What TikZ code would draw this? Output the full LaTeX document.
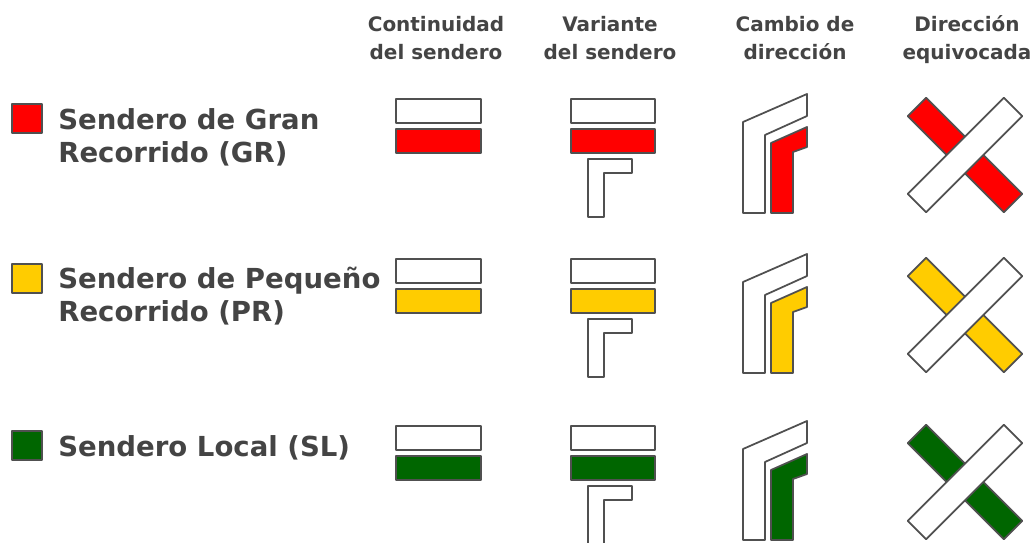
\documentclass[tikz,border=0pt]{standalone}
\usepackage{fontspec}
\setmainfont{DejaVu Sans}
\definecolor{grcolor}{HTML}{FF0000}
\definecolor{prcolor}{HTML}{FFCC00}
\definecolor{slcolor}{HTML}{006600}
\definecolor{edgegray}{HTML}{505050}
\definecolor{textgray}{HTML}{444444}
\tikzset{
  signbox/.style={draw=edgegray, line width=1.25pt, line join=round},
  headtext/.style={font=\bfseries\fontsize{14.2}{20.6}\selectfont, text=textgray, align=center, inner sep=0pt, anchor=base},
  labeltext/.style={font=\bfseries\fontsize{19.6}{23.5}\selectfont, text=textgray, align=left, inner sep=0pt, anchor=base west}
}

\begin{document}
\begin{tikzpicture}[x=0.025cm, y=-0.025cm]
    \useasboundingbox (0,0) rectangle (1032,543);

    % column heads (base = last line)
    \node[headtext] (conthead) at (436,60) {Continuidad\\del sendero};
    \node[headtext] (varhead) at (610,60) {Variante\\del sendero};
    \node[headtext] (camhead) at (795,60) {Cambio de\\dirección};
    \node[headtext] (dirhead) at (967,60) {Dirección\\equivocada};

    \node[labeltext] (grlabel) at (58,163) {Sendero de Gran\\Recorrido (GR)};
    \node[labeltext] (prlabel) at (58,322) {Sendero de Pequeño\\Recorrido (PR)};
    \node[labeltext] (sllabel) at (58,456) {Sendero Local (SL)};

    \foreach \dy/\col in {0/grcolor, 160/prcolor, 327/slcolor} {
      \begin{scope}[shift={(0,\dy)}]
        \draw[signbox, fill=\col] (12,104) rectangle (42,133);
        % continuidad
        \draw[signbox, fill=white] (396,99) rectangle (481,123);
        \draw[signbox, fill=\col] (396,129) rectangle (481,153);
        % variante
        \draw[signbox, fill=white] (571,99) rectangle (655,123);
        \draw[signbox, fill=\col] (571,129) rectangle (655,153);
        \draw[signbox, fill=white] (588,159) -- (632,159) -- (632,173) -- (604,173) -- (604,217) -- (588,217) -- cycle;
        % cambio de direccion
        \draw[signbox, fill=white] (743,213) -- (743,122) -- (807,94) -- (807,116) -- (765,135) -- (765,213) -- cycle;
        \draw[signbox, fill=\col] (771,213) -- (771,143) -- (807,127) -- (807,147) -- (793,152) -- (793,213) -- cycle;
        % direccion equivocada
        \draw[signbox, fill=\col, rotate around={-45:(965,155)}] (897,142) rectangle (1033,168);
        \draw[signbox, fill=white, rotate around={45:(965,155)}] (897,142) rectangle (1033,168);
      \end{scope}
    }
\end{tikzpicture}
\end{document}
